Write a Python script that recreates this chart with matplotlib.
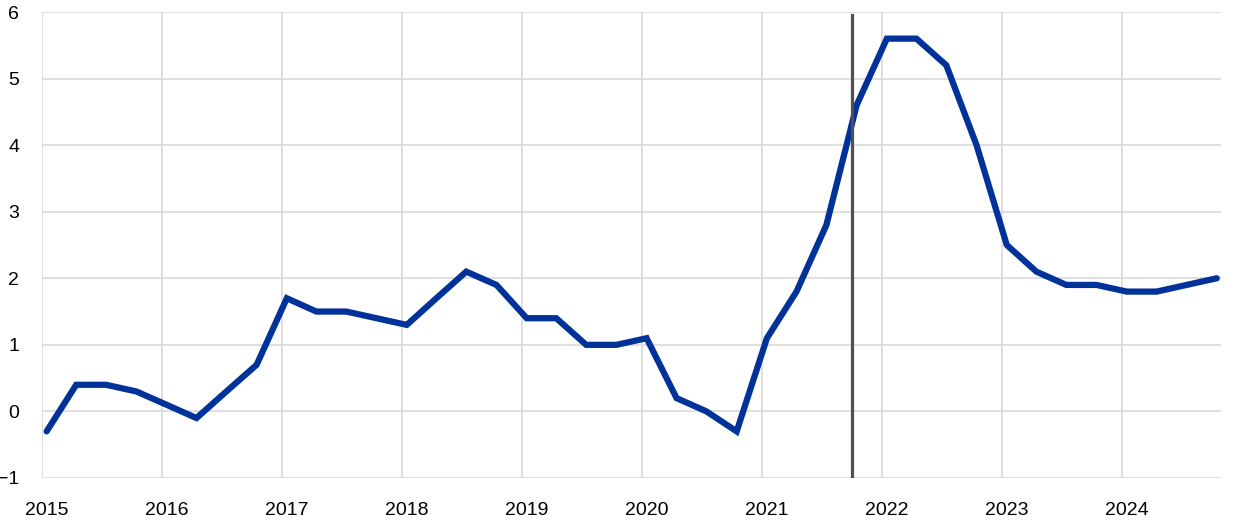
import matplotlib
matplotlib.use('Agg')
import matplotlib.pyplot as plt
import pandas as pd

plt.rcParams['font.family'] = ['Liberation Sans', 'DejaVu Sans']

# quarterly series, 2015Q1 - 2024Q4
quarters = pd.period_range('2015Q1', '2024Q4', freq='Q')
values = [-0.3, 0.4, 0.4, 0.3,
          0.1, -0.1, 0.3, 0.7,
          1.7, 1.5, 1.5, 1.4,
          1.3, 1.7, 2.1, 1.9,
          1.4, 1.4, 1.0, 1.0,
          1.1, 0.2, 0.0, -0.3,
          1.1, 1.8, 2.8, 4.6,
          5.6, 5.6, 5.2, 4.0,
          2.5, 2.1, 1.9, 1.9,
          1.8, 1.8, 1.9, 2.0]
years = list(range(2015, 2025))
yticks = [-1, 0, 1, 2, 3, 4, 5, 6]
marker_date = '2021-10-01'

# points sit mid first month of each quarter
dates = quarters.start_time + pd.Timedelta(days=14)

fig = plt.figure(figsize=(12.4, 5.2), dpi=100)
ax = fig.add_axes([0.0339, 0.0808, 0.9508, 0.8961])

ax.plot(dates, values, color='#003299', linewidth=4.5,
        solid_joinstyle='miter', solid_capstyle='round', zorder=3)
ax.axvline(pd.Timestamp(marker_date), ymax=0.994, color='#505050', linewidth=2.3, zorder=4)

ax.set_ylim(-1, 6)
ax.set_yticks(yticks)
ax.set_xlim(pd.Timestamp('2015-01-01'), pd.Timestamp('2024-10-28'))

# labels centred on first-quarter points, grid at year start
ax.set_xticks([pd.Timestamp(f'{y}-01-15') for y in years])
ax.set_xticklabels([str(y) for y in years])
ax.set_xticks([pd.Timestamp(f'{y}-01-01') for y in years], minor=True)

ax.tick_params(axis='both', which='both', length=0, labelsize=14, colors='black')
ax.tick_params(axis='y', pad=16.5)
ax.tick_params(axis='x', pad=17)

ax.grid(axis='y', which='major', color='#d9d9d9', linewidth=1.2)
ax.grid(axis='x', which='minor', color='#d9d9d9', linewidth=1.2)
ax.grid(axis='x', which='major', visible=False)
ax.set_axisbelow(True)
for s in ax.spines.values():
    s.set_visible(False)

plt.savefig('out.png', dpi=100)
